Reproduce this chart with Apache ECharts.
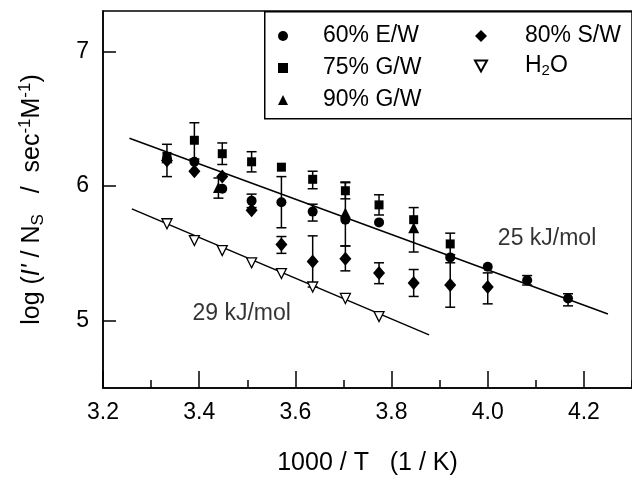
<!DOCTYPE html>
<html><head><meta charset="utf-8">
<script src="https://cdn.jsdelivr.net/npm/echarts@6/dist/echarts.min.js"></script>
<style>html,body{margin:0;padding:0;background:#fff}#c{width:632px;height:481px}</style>
</head><body><div id="c"></div>
<script>
const FONT = '"Liberation Sans", Arial, Helvetica, sans-serif';

// ---- axis ticks ----
const xTickLabels = [3.2, 3.4, 3.6, 3.8, 4.0, 4.2];
const yTickLabels = [5, 6, 7];

// ---- 60% E/W (filled circles) ----
const ewX  = [3.333, 3.390, 3.448, 3.509, 3.571, 3.636, 3.704, 3.774, 3.922, 4.000, 4.082, 4.167];
const ewY  = [6.20, 6.18, 5.98, 5.89, 5.88, 5.81, 5.75, 5.73, 5.47, 5.40, 5.30, 5.165];
const ewLo = [6.07, null, null, 5.84, 5.69, 5.74, null, null, null, null, 5.265, 5.11];
const ewHi = [6.31, null, null, 5.94, 6.07, 5.865, null, null, null, null, 5.335, 5.20];

// ---- 75% G/W (filled squares) ----
const gw75X  = [3.333, 3.390, 3.448, 3.509, 3.571, 3.636, 3.704, 3.774, 3.846, 3.922];
const gw75Y  = [6.22, 6.34, 6.24, 6.18, 6.14, 6.05, 5.965, 5.86, 5.75, 5.57];
const gw75Lo = [null, 6.20, 6.16, 6.105, null, 5.98, 5.905, 5.785, null, 5.49];
const gw75Hi = [null, 6.47, 6.32, 6.255, null, 6.11, 6.025, 5.935, null, 5.65];

// ---- 90% G/W (filled triangles) ----
const gw90X  = [3.333, 3.440, 3.704, 3.846];
const gw90Y  = [6.21, 5.99, 5.80, 5.69];
const gw90Lo = [null, 5.91, 5.555, 5.51];
const gw90Hi = [null, 6.06, 6.03, 5.84];

// ---- 80% S/W (filled diamonds) ----
const swX  = [3.333, 3.390, 3.448, 3.509, 3.571, 3.636, 3.704, 3.774, 3.846, 3.922, 4.000];
const swY  = [6.19, 6.11, 6.07, 5.82, 5.565, 5.44, 5.46, 5.355, 5.28, 5.265, 5.25];
const swLo = [null, null, null, null, 5.50, 5.25, 5.37, 5.275, 5.18, 5.10, 5.125];
const swHi = [null, null, null, null, 5.625, 5.63, 5.555, 5.43, 5.38, 5.43, 5.355];

// ---- H2O (open inverted triangles) ----
const h2oX = [3.333, 3.390, 3.448, 3.509, 3.571, 3.636, 3.704, 3.774];
const h2oY = [5.72, 5.595, 5.52, 5.43, 5.35, 5.25, 5.165, 5.03];

// ---- Arrhenius fit lines ----
const fit25X = [3.255, 4.25];
const fit25Y = [6.355, 5.05];
const fit29X = [3.26, 3.878];
const fit29Y = [5.83, 4.895];

// ---- annotations ----
const annotX = [4.02, 3.385];
const annotY = [5.61, 5.05];
const annotText = ['25 kJ/mol', '29 kJ/mol'];

function pairs(xs, ys) { return xs.map((x, i) => [x, ys[i]]); }
function errs(xs, lo, hi) {
  const out = [];
  xs.forEach((x, i) => { if (lo[i] != null) out.push([x, lo[i], hi[i]]); });
  return out;
}
const LS = { color: '#000', width: 1.5 };

function errorSeries(data) {
  return {
    type: 'custom', data: data, encode: { x: 0, y: [1, 2] }, z: 3, silent: true,
    renderItem: function (params, api) {
      const x = api.value(0), lo = api.value(1), hi = api.value(2);
      const a = api.coord([x, lo]), b = api.coord([x, hi]);
      const hw = 5;
      const st = { stroke: '#000', lineWidth: 1.5 };
      return { type: 'group', children: [
        { type: 'line', shape: { x1: a[0], y1: a[1], x2: b[0], y2: b[1] }, style: st },
        { type: 'line', shape: { x1: a[0] - hw, y1: a[1], x2: a[0] + hw, y2: a[1] }, style: st },
        { type: 'line', shape: { x1: b[0] - hw, y1: b[1], x2: b[0] + hw, y2: b[1] }, style: st }
      ] };
    }
  };
}
function scatter(name, xs, ys, symbol, size, extra) {
  return Object.assign({
    name: name, type: 'scatter', data: pairs(xs, ys), symbol: symbol, symbolSize: size, z: 5,
    itemStyle: { color: '#000', opacity: 1 }
  }, extra || {});
}

const chart = echarts.init(document.getElementById('c'), null, { renderer: 'canvas' });
function legendText(padLeft) {
  return {
    fontSize: 23, color: '#000', fontFamily: FONT, lineHeight: 24, padding: [0, 0, 0, padLeft],
    rich: { sub: { fontSize: 15, fontFamily: FONT, color: '#000', lineHeight: 10, verticalAlign: 'bottom' } }
  };
}
chart.setOption({
  animation: false,
  backgroundColor: '#fff',
  textStyle: { fontFamily: FONT, color: '#000' },
  grid: { left: 103, right: 0, top: 11, bottom: 93, show: true, borderColor: '#000', borderWidth: 1.5, backgroundColor: 'transparent' },
  graphic: [{
    type: 'rect', left: 264, top: 11, z: 1,
    shape: { width: 400, height: 107 },
    style: { fill: 'transparent', stroke: '#000', lineWidth: 1.5 }
  }],
  legend: [
    { orient: 'vertical', left: 278, top: 24, padding: 0, itemWidth: 10, itemHeight: 10, itemGap: 8,
      symbolKeepAspect: true, selectedMode: false, textStyle: legendText(30),
      data: ['60% E/W', '75% G/W', '90% G/W'] },
    { orient: 'vertical', left: 474, top: 24, padding: 0, itemWidth: 12, itemHeight: 12, itemGap: 6,
      symbolKeepAspect: true, selectedMode: false, textStyle: legendText(33),
      data: ['80% S/W', { name: 'H2O', icon: 'path://M0,0L10,0L5,9Z' }],
      formatter: function (n) { return n === 'H2O' ? 'H{sub|2}O' : n; } }
  ],
  xAxis: [
    { type: 'value', position: 'bottom', min: 3.2, max: 4.3, interval: 0.1,
      axisLine: { show: true, lineStyle: LS },
      axisTick: { show: true, inside: true, length: 8, lineStyle: LS },
      axisLabel: { show: false }, splitLine: { show: false },
      name: '1000 / T   (1 / K)', nameLocation: 'middle', nameGap: 63,
      nameTextStyle: { fontSize: 25, color: '#000', fontFamily: FONT } },
    { type: 'value', position: 'bottom', min: 3.2, max: 4.3, interval: 0.2,
      axisLine: { show: false },
      axisTick: { show: true, inside: true, length: 17, lineStyle: LS, customValues: xTickLabels },
      axisLabel: { show: true, fontSize: 23, color: '#000', fontFamily: FONT, margin: 13,
        customValues: xTickLabels,
        formatter: function (v) { return Math.abs(v - 4.3) < 1e-6 ? '' : v.toFixed(1); } },
      splitLine: { show: false } }
  ],
  yAxis: {
    type: 'value', min: 4.5, max: 7.3, interval: 0.5,
    axisLine: { show: true, lineStyle: LS },
    axisTick: { show: true, inside: true, length: 13, lineStyle: LS, customValues: yTickLabels },
    axisLabel: { show: true, fontSize: 23, color: '#000', fontFamily: FONT, margin: 14, customValues: yTickLabels,
      formatter: function (v) { return Math.abs(v - Math.round(v)) < 1e-6 ? String(Math.round(v)) : ''; } },
    splitLine: { show: false },
    name: 'log ({i|I\'} / N{sub|S}   /  sec{sup|-1}M{sup|-1})',
    nameLocation: 'middle', nameGap: 56, nameRotate: 90,
    nameTextStyle: {
      fontSize: 25, color: '#000', fontFamily: FONT, lineHeight: 30,
      rich: {
        i: { fontSize: 25, fontStyle: 'italic', fontFamily: FONT, color: '#000', lineHeight: 30 },
        sub: { fontSize: 17, fontFamily: FONT, color: '#000', lineHeight: 14, verticalAlign: 'bottom' },
        sup: { fontSize: 17, fontFamily: FONT, color: '#000', lineHeight: 14, verticalAlign: 'top' }
      }
    }
  },
  series: [
    { type: 'line', data: pairs(fit25X, fit25Y), symbol: 'none', lineStyle: LS, z: 2, silent: true },
    { type: 'line', data: pairs(fit29X, fit29Y), symbol: 'none', lineStyle: LS, z: 2, silent: true },
    errorSeries(errs(ewX, ewLo, ewHi)),
    errorSeries(errs(gw75X, gw75Lo, gw75Hi)),
    errorSeries(errs(gw90X, gw90Lo, gw90Hi)),
    errorSeries(errs(swX, swLo, swHi)),
    scatter('60% E/W', ewX, ewY, 'circle', 10),
    scatter('75% G/W', gw75X, gw75Y, 'rect', 9),
    scatter('90% G/W', gw90X, gw90Y, 'triangle', 11),
    scatter('80% S/W', swX, swY, 'diamond', [12, 14]),
    scatter('H2O', h2oX, h2oY, 'triangle', 10, {
      symbolRotate: 180,
      itemStyle: { color: '#fff', borderColor: '#000', borderWidth: 1.3, opacity: 1 }
    }),
    { type: 'scatter', data: pairs(annotX, annotY), symbolSize: 1, z: 6, silent: true,
      itemStyle: { color: 'rgba(0,0,0,0)' },
      label: { show: true, position: 'right', distance: 0, fontSize: 23, color: '#000', fontFamily: FONT,
        formatter: function (p) { return annotText[p.dataIndex]; } } }
  ]
});
</script>
</body></html>
